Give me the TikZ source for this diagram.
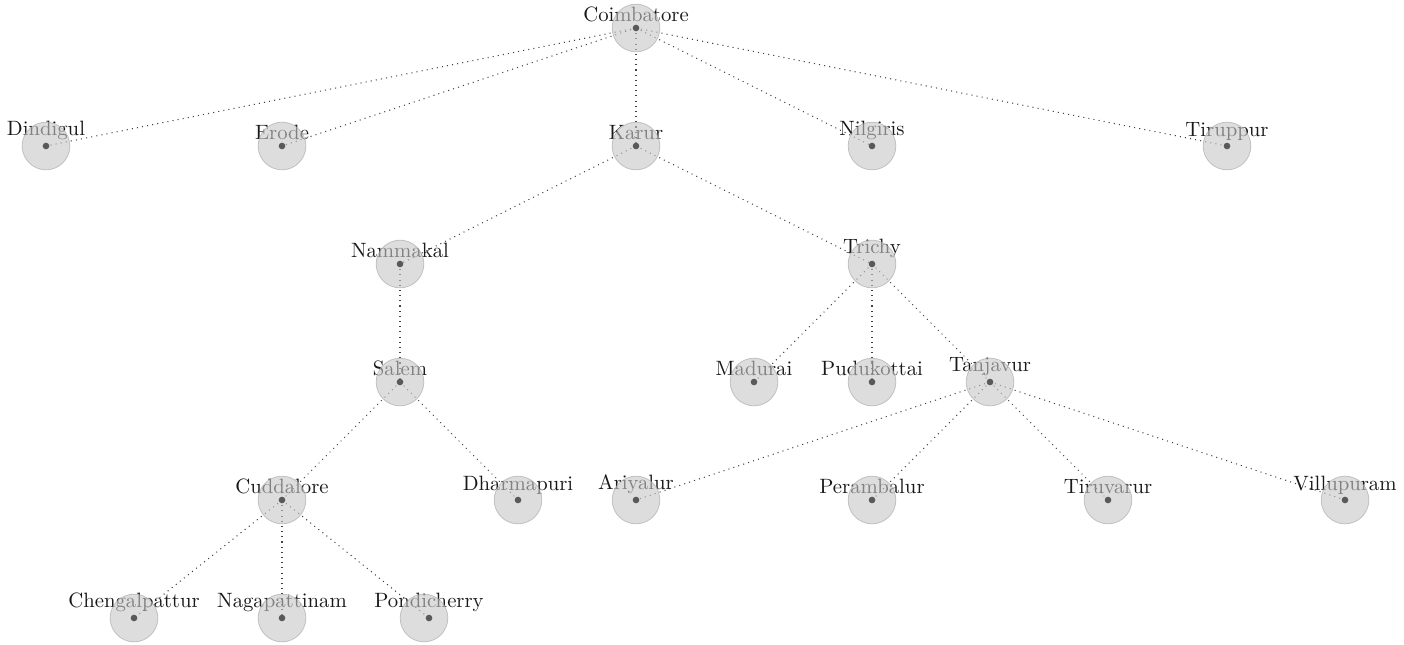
\documentclass[tikz,border=0pt]{standalone}
\begin{document}
\begin{tikzpicture}[x=0.016949cm,y=-0.016949cm,
  edge/.style={draw=black!75,dotted,line width=0.5pt},
  lbl/.style={anchor=south,inner sep=0pt,text=black!90,font=\normalsize},
  disc/.style={circle,minimum size=23pt,inner sep=0pt,fill=black!22,draw=black!35,line width=0.4pt,opacity=0.6},
  dot/.style={circle,minimum size=3.2pt,inner sep=0pt,fill=black!65}]
\useasboundingbox (0,0) rectangle (1404,644);
% centres
\foreach \n/\x/\y in {Coimbatore/636/28,
  Dindigul/46/146, Erode/282/146, Karur/636/146, Nilgiris/872/146, Tiruppur/1227/146,
  Nammakal/400/264, Trichy/872/264,
  Salem/400/382, Madurai/754/382, Pudukottai/872/382, Tanjavur/990/382,
  Cuddalore/282/500, Dharmapuri/518/500, Ariyalur/636/500, Perambalur/872/500, Tiruvarur/1108/500, Villupuram/1345/500,
  Chengalpattur/134/618, Nagapattinam/282/618, Pondicherry/429/618}
  {\coordinate (p-\n) at (\x,\y);}
% edges
\foreach \a/\b in {Coimbatore/Dindigul, Coimbatore/Erode, Coimbatore/Karur, Coimbatore/Nilgiris, Coimbatore/Tiruppur,
  Karur/Nammakal, Karur/Trichy, Nammakal/Salem,
  Trichy/Madurai, Trichy/Pudukottai, Trichy/Tanjavur,
  Salem/Cuddalore, Salem/Dharmapuri,
  Tanjavur/Ariyalur, Tanjavur/Perambalur, Tanjavur/Tiruvarur, Tanjavur/Villupuram,
  Cuddalore/Chengalpattur, Cuddalore/Nagapattinam, Cuddalore/Pondicherry}
  {\draw[edge] (p-\a) -- (p-\b);}
% labels
\foreach \n in {Coimbatore, Dindigul, Erode, Karur, Nilgiris, Tiruppur, Nammakal, Trichy, Salem, Madurai, Pudukottai, Tanjavur,
  Cuddalore, Dharmapuri, Ariyalur, Perambalur, Tiruvarur, Villupuram, Chengalpattur, Nagapattinam, Pondicherry}
  {\node[lbl] (l-\n) at ([yshift=2.6pt]p-\n) {\n};}
% discs and dots
\foreach \n/\dx in {Coimbatore/0, Dindigul/0, Erode/0, Karur/0, Nilgiris/0, Tiruppur/0, Nammakal/0, Trichy/0, Salem/0, Madurai/0, Pudukottai/0, Tanjavur/0,
  Cuddalore/0, Dharmapuri/0, Ariyalur/0, Perambalur/0, Tiruvarur/0, Villupuram/0, Chengalpattur/0, Nagapattinam/0, Pondicherry/-5}
  {\node[disc] (\n) at ([xshift=\dx*0.16949mm]p-\n) {};
   \node[dot] (d-\n) at (p-\n) {};}
\end{tikzpicture}
\end{document}
